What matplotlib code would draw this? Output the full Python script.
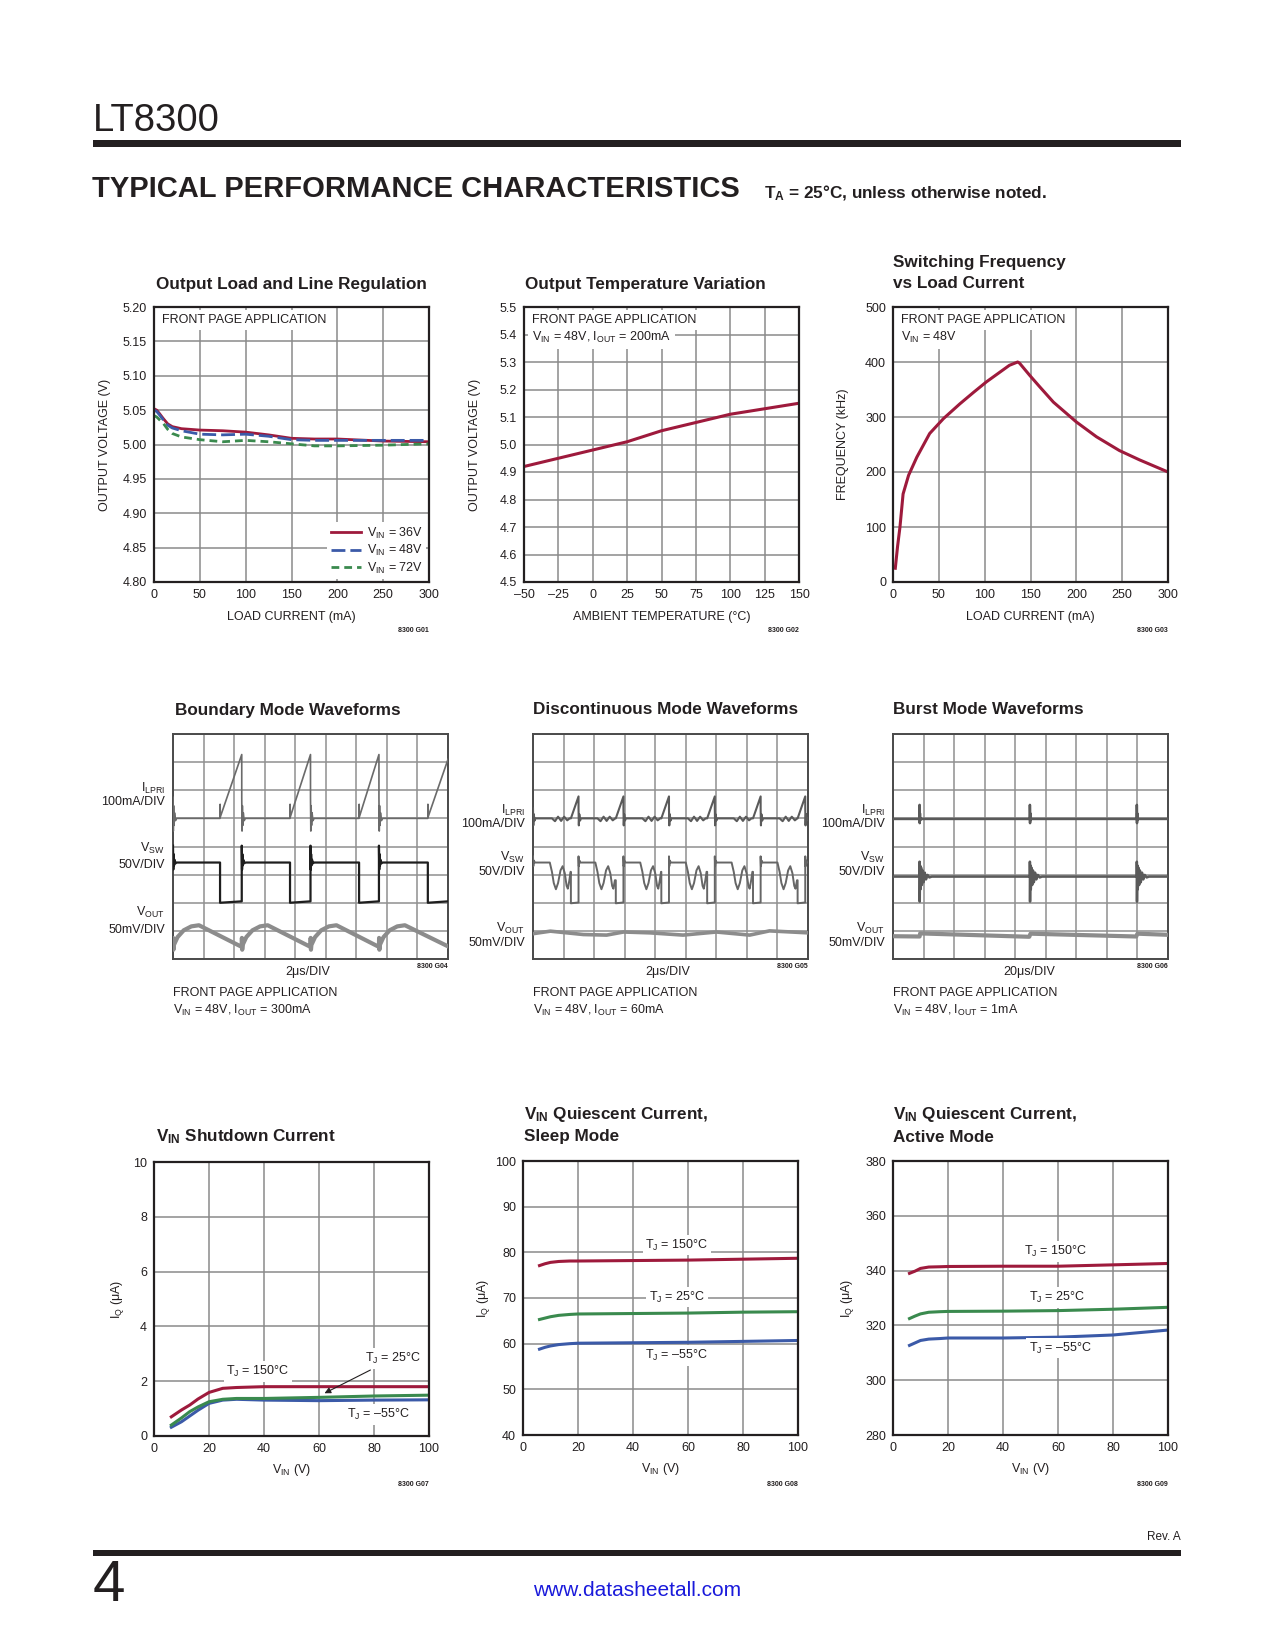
import matplotlib
matplotlib.use("Agg")
import matplotlib.pyplot as plt
from matplotlib.patches import Rectangle

# page size in pixels (dpi 100)
W, H = 1275, 1650
INK = "#231f20"
GRID = "#8a8a8a"
SCOPE_GRID = "#8f8f8f"
RED = "#9e1a3c"
BLUE = "#3b5aa8"
GREEN = "#3a8a4e"
URL_BLUE = "#1a1adb"
FONT = "Liberation Sans"
FS = 9          # ticks, axis labels, notes
FS_TITLE = 12.3  # panel titles

plt.rcParams["font.family"] = [FONT, "DejaVu Sans"]
plt.rcParams["mathtext.fontset"] = "custom"
plt.rcParams["mathtext.rm"] = FONT
plt.rcParams["mathtext.it"] = FONT + ":italic"
plt.rcParams["mathtext.bf"] = FONT + ":bold"
plt.rcParams["text.color"] = INK

# ---------------- G01: output load and line regulation
load_ma = [0, 3, 6, 10, 15, 20, 30, 50, 75, 100, 125, 150, 175, 200, 250, 300]
vout_36v = [5.052, 5.050, 5.045, 5.038, 5.030, 5.026, 5.023, 5.021, 5.020, 5.018, 5.014, 5.009, 5.008, 5.008, 5.005, 5.004]
vout_48v = [5.050, 5.048, 5.043, 5.036, 5.028, 5.024, 5.020, 5.015, 5.014, 5.015, 5.012, 5.007, 5.006, 5.006, 5.006, 5.006]
vout_72v = [5.042, 5.040, 5.036, 5.031, 5.022, 5.016, 5.011, 5.007, 5.004, 5.006, 5.004, 5.001, 4.998, 4.998, 4.999, 5.001]
g01_yticks = [4.80, 4.85, 4.90, 4.95, 5.00, 5.05, 5.10, 5.15, 5.20]
g01_xticks = [0, 50, 100, 150, 200, 250, 300]

# ---------------- G02: output temperature variation
temp_c = [-50, -25, 0, 25, 50, 75, 100, 125, 150]
vout_temp = [4.92, 4.95, 4.98, 5.01, 5.05, 5.08, 5.11, 5.13, 5.15]
g02_yticks = [4.5, 4.6, 4.7, 4.8, 4.9, 5.0, 5.1, 5.2, 5.3, 5.4, 5.5]
g02_xticks = [-50, -25, 0, 25, 50, 75, 100, 125, 150]
g02_xlabels = ["\u201350", "\u201325", "0", "25", "50", "75", "100", "125", "150"]

# ---------------- G03: switching frequency vs load current
load_f = [2.5, 5, 7.6, 11, 17, 26, 40, 55, 73, 88, 102, 117, 127, 136, 138, 149, 160, 175, 200, 222, 247, 269, 300]
freq_khz = [25, 65, 100, 160, 194, 227, 270, 297, 324, 345, 364, 382, 394, 400, 398, 376, 355, 327, 291, 264, 239, 222, 200]
g03_yticks = [0, 100, 200, 300, 400, 500]

# ---------------- G04: boundary mode waveforms (scope divisions)
bm_t_off = [0.0, 2.25, 4.50, 6.74]
bm_t_on = [1.54, 3.83, 6.09, 8.34]
bm_ilpri_base = 5.0
bm_ilpri_peak = [7.27, 7.27, 7.27, 7.10]
bm_vsw_high = 3.43
bm_vsw_low = 2.0
ring_dt = [0.0, 0.01, 0.02, 0.035, 0.05, 0.08, 0.12]
bm_ilpri_ring = [0.75, -0.45, 0.45, -0.25, 0.2, -0.08, 0.0]
bm_vsw_ring = [0.6, -0.25, 0.3, -0.1, 0.1, -0.03, 0.0]
bm_vout_dt = [0.0, 0.005, 0.015, 0.03, 0.15, 0.35, 0.6, 0.85]
bm_vout_v = [0.43, 0.75, 0.33, 0.5, 0.78, 1.02, 1.16, 1.2]

# ---------------- G05: discontinuous mode waveforms
dm_t_off = [0.0, 1.49, 2.96, 4.45, 5.95, 7.45, 8.91]
dm_t_on = [1.24, 2.71, 4.20, 5.70, 7.20, 8.66]
dm_ilpri_base = 5.0
dm_ilpri_peak = 5.78
dm_ilpri_bump_dt = [0.0, 0.01, 0.025, 0.05, 0.08, 0.62, 0.72, 0.82, 0.92, 1.02, 1.12, 1.2]
dm_ilpri_bump_v = [0.35, -0.25, 0.15, -0.08, 0.0, 0.0, -0.1, 0.06, -0.09, 0.06, -0.07, 0.0]
dm_vsw_dt = [0.0, 0.01, 0.03, 0.06, 0.55, 0.62, 0.68, 0.75, 0.82, 0.90, 0.97, 1.04, 1.10, 1.14, 1.19, 1.23]
dm_vsw_v = [3.65, 3.30, 3.50, 3.43, 3.43, 3.10, 2.70, 2.48, 2.70, 3.15, 3.30, 3.05, 2.60, 2.50, 2.80, 3.10]
dm_vsw_low = 1.98
dm_vout_t = [0, 0.57, 1.65, 2.41, 2.96, 3.83, 4.91, 6.0, 7.09, 7.74, 9.0]
dm_vout_v = [0.90, 0.99, 0.87, 0.85, 0.96, 0.93, 0.85, 0.96, 0.85, 1.0, 0.93]

# ---------------- G06: burst mode waveforms
bu_bursts = [0.87, 4.48, 7.98]
bu_ilpri_base = 4.98
bu_ilpri_dt = [0.0, 0.005, 0.012, 0.02, 0.035, 0.05]
bu_ilpri_v = [0.5, -0.15, 0.2, -0.05, 0.02, 0.0]
bu_vsw_base = 2.93
bu_vsw_dt = [0.0, 0.005, 0.015, 0.03, 0.05, 0.075, 0.10, 0.13, 0.17, 0.21, 0.26, 0.32, 0.40]
bu_vsw_v = [0.53, -0.89, 0.40, -0.45, 0.32, -0.30, 0.22, -0.2, 0.14, -0.1, 0.06, -0.03, 0.0]
bu_vout_t = [0, 0.87, 0.89, 4.46, 4.50, 7.96, 8.0, 9.0]
bu_vout_v = [0.81, 0.80, 0.91, 0.79, 0.90, 0.80, 0.90, 0.86]

# ---------------- G07: VIN shutdown current
vin_sd = [6.3, 10, 13, 16, 20, 25, 30, 40, 60, 80, 100]
sd_150 = [0.70, 0.95, 1.13, 1.35, 1.59, 1.74, 1.77, 1.80, 1.80, 1.80, 1.80]
sd_25 = [0.40, 0.66, 0.89, 1.06, 1.25, 1.34, 1.37, 1.37, 1.41, 1.46, 1.49]
sd_m55 = [0.32, 0.52, 0.73, 0.94, 1.19, 1.31, 1.34, 1.31, 1.29, 1.31, 1.32]

# ---------------- G08 / G09: VIN quiescent current
vin_q = [6, 8, 10, 13, 17, 20, 40, 60, 80, 100]
sleep_150 = [77.1, 77.5, 77.8, 78.0, 78.1, 78.1, 78.2, 78.3, 78.5, 78.7]
sleep_25 = [65.3, 65.6, 65.9, 66.2, 66.4, 66.5, 66.6, 66.7, 66.9, 67.0]
sleep_m55 = [58.8, 59.2, 59.5, 59.8, 60.0, 60.1, 60.2, 60.3, 60.5, 60.7]
active_150 = [339.0, 339.8, 340.8, 341.3, 341.4, 341.5, 341.6, 341.6, 342.1, 342.6]
active_25 = [322.5, 323.4, 324.2, 324.8, 325.0, 325.1, 325.2, 325.4, 325.9, 326.6]
active_m55 = [312.7, 313.6, 314.5, 315.0, 315.2, 315.4, 315.4, 315.7, 316.5, 318.3]
vin_xticks = [0, 20, 40, 60, 80, 100]

fig = plt.figure(figsize=(W / 100, H / 100), dpi=100)


def ftext(x, y, s, **kw):
    """Text at page pixel position (y from top)."""
    return fig.text(x / W, 1 - y / H, s, **kw)


def make_axes(l, t, r, b):
    return fig.add_axes([l / W, 1 - b / H, (r - l) / W, (b - t) / H])


def style_chart(ax, xlim, ylim, xticks, yticks, xlabels=None, ylabels=None):
    ax.set_xlim(xlim)
    ax.set_ylim(ylim)
    ax.set_xticks(xticks)
    ax.set_yticks(yticks)
    if xlabels is not None:
        ax.set_xticklabels(xlabels)
    if ylabels is not None:
        ax.set_yticklabels(ylabels)
    ax.grid(True, color=GRID, lw=1.1)
    ax.set_axisbelow(True)
    ax.tick_params(length=0, labelsize=FS, colors=INK)
    ax.tick_params(axis="y", pad=5)
    ax.tick_params(axis="x", pad=5)
    for sp in ax.spines.values():
        sp.set_linewidth(1.6)
        sp.set_color(INK)
        sp.set_zorder(5)


def axis_labels(ax, xlabel, ylabel, xoff, yoff):
    w = ax.get_position().width * W
    h = ax.get_position().height * H
    ax.text(0.5, -yoff / h, xlabel, transform=ax.transAxes, ha="center", va="center", fontsize=FS)
    ax.text(-xoff / w, 0.5, ylabel, transform=ax.transAxes, ha="center", va="center",
            rotation=90, fontsize=FS)


def inset(ax, lines, x_px=8, y_px=[13, 30]):
    w = ax.get_position().width * W
    h = ax.get_position().height * H
    for s, yy in zip(lines, y_px):
        ax.text(x_px / w, 1 - yy / h, s, transform=ax.transAxes, ha="left", va="center",
                fontsize=FS, zorder=4,
                bbox=dict(facecolor="white", edgecolor="none", pad=3))


def style_scope(ax):
    ax.set_xlim(0, 9)
    ax.set_ylim(0, 8)
    ax.set_xticks(range(10))
    ax.set_yticks(range(9))
    ax.grid(True, color=SCOPE_GRID, lw=1.1)
    ax.set_axisbelow(True)
    ax.tick_params(length=0, labelbottom=False, labelleft=False)
    for sp in ax.spines.values():
        sp.set_linewidth(1.4)
        sp.set_color("#4a4a4a")


def scope_notes(x_right, rows):
    for y, s in rows:
        ftext(x_right, y, s, fontsize=FS, ha="right", va="center")


VIN = "V$_\\mathregular{IN}$"
IOUT = "I$_\\mathregular{OUT}$"
TJ = "T$_\\mathregular{J}$"
IQ = "I$_\\mathregular{Q}$ (μA)"
ILPRI = "I$_\\mathregular{LPRI}$"
VSW = "V$_\\mathregular{SW}$"
VOUT = "V$_\\mathregular{OUT}$"

# ---------------- page header / footer
ftext(93, 121, "LT8300", fontsize=27.5, ha="left", va="center", color=INK)
fig.add_artist(Rectangle((93 / W, 1 - 147 / H), (1181 - 93) / W, 7 / H,
                         transform=fig.transFigure, color=INK, lw=0))
ftext(92, 189, "TYPICAL PERFORMANCE CHARACTERISTICS", fontsize=21, fontweight="bold",
      ha="left", va="center")
ftext(764, 193, "T$_\\mathbf{A}$ = 25°C, unless otherwise noted.", fontsize=12.3,
      fontweight="bold", ha="left", va="center")
fig.add_artist(Rectangle((93 / W, 1 - 1556 / H), (1181 - 93) / W, 6 / H,
                         transform=fig.transFigure, color=INK, lw=0))
ftext(1181, 1537, "Rev. A", fontsize=8.5, ha="right", va="center")
ftext(93, 1586, "4", fontsize=42, ha="left", va="center")
ftext(637, 1591, "www.datasheetall.com", fontsize=15, ha="center", va="center", color=URL_BLUE)

# ---------------- G01
ax = make_axes(154, 307, 429, 582)
style_chart(ax, (0, 300), (4.80, 5.20), g01_xticks, g01_yticks,
            ylabels=["%.2f" % v for v in g01_yticks])
ax.plot(load_ma, vout_36v, color=RED, lw=2.0, label=VIN + " = 36V", zorder=3)
ax.plot(load_ma, vout_48v, color=BLUE, lw=2.0, dashes=(5, 1.8), label=VIN + " = 48V", zorder=3)
ax.plot(load_ma, vout_72v, color=GREEN, lw=2.0, dashes=(2.8, 1.8), label=VIN + " = 72V", zorder=3)
leg = ax.legend(loc="lower right", fontsize=FS, frameon=True, fancybox=False, framealpha=1,
                edgecolor="none", borderaxespad=0.25, borderpad=0.25, handlelength=2.4,
                handletextpad=0.5, labelspacing=0.2)
leg.set_zorder(4)
inset(ax, ["FRONT PAGE APPLICATION"])
axis_labels(ax, "LOAD CURRENT (mA)", "OUTPUT VOLTAGE (V)", 49, 35)
ftext(156, 284, "Output Load and Line Regulation", fontsize=FS_TITLE, fontweight="bold", ha="left", va="center")
ftext(429, 630, "8300 G01", fontsize=5, fontweight="bold", ha="right", va="center")

# ---------------- G02
ax = make_axes(524, 307, 799, 582)
style_chart(ax, (-50, 150), (4.5, 5.5), g02_xticks, g02_yticks, xlabels=g02_xlabels,
            ylabels=["%.1f" % v for v in g02_yticks])
ax.plot(temp_c, vout_temp, color=RED, lw=2.2, zorder=3)
inset(ax, ["FRONT PAGE APPLICATION", VIN + " = 48V, " + IOUT + " = 200mA"])
axis_labels(ax, "AMBIENT TEMPERATURE (°C)", "OUTPUT VOLTAGE (V)", 49, 35)
ftext(525, 284, "Output Temperature Variation", fontsize=FS_TITLE, fontweight="bold", ha="left", va="center")
ftext(799, 630, "8300 G02", fontsize=5, fontweight="bold", ha="right", va="center")

# ---------------- G03
ax = make_axes(893, 307, 1168, 582)
style_chart(ax, (0, 300), (0, 500), g01_xticks, g03_yticks)
ax.plot(load_f, freq_khz, color=RED, lw=2.2, zorder=3)
inset(ax, ["FRONT PAGE APPLICATION", VIN + " = 48V"])
axis_labels(ax, "LOAD CURRENT (mA)", "FREQUENCY (kHz)", 50, 35)
ftext(893, 262, "Switching Frequency", fontsize=FS_TITLE, fontweight="bold", ha="left", va="center")
ftext(893, 284, "vs Load Current", fontsize=FS_TITLE, fontweight="bold", ha="left", va="center")
ftext(1168, 630, "8300 G03", fontsize=5, fontweight="bold", ha="right", va="center")

# ---------------- G04 boundary mode
ax = make_axes(173, 734, 448, 959)
style_scope(ax)
ts, vs = [], []
for k, t0 in enumerate(bm_t_off):
    for dt, dv in zip(ring_dt, bm_ilpri_ring):
        ts.append(t0 + dt)
        vs.append(bm_ilpri_base + dv)
    ton = bm_t_on[k]
    ts += [ton, ton + 0.003, ton + 0.008]
    vs += [bm_ilpri_base, bm_ilpri_base + 0.5, bm_ilpri_base + 0.05]
    ts.append(bm_t_off[k + 1] if k + 1 < len(bm_t_off) else 9.0)
    vs.append(bm_ilpri_peak[k])
ax.plot(ts, vs, color="#6a6a6a", lw=1.2, zorder=3)
ts, vs = [], []
for k, t0 in enumerate(bm_t_off):
    for dt, dv in zip(ring_dt, bm_vsw_ring):
        ts.append(t0 + dt)
        vs.append(bm_vsw_high + dv)
    ton = bm_t_on[k]
    ts += [ton, ton]
    vs += [bm_vsw_high, bm_vsw_low]
    ts.append(bm_t_off[k + 1] if k + 1 < len(bm_t_off) else 9.0)
    vs.append(bm_vsw_low + 0.05)
ax.plot(ts, vs, color="#1e1e1e", lw=1.6, zorder=3)
ts, vs = [], []
for t0 in bm_t_off:
    for dt, v in zip(bm_vout_dt, bm_vout_v):
        ts.append(t0 + dt)
        vs.append(v)
ts.append(9.0)
vs.append(0.45)
ax.plot(ts, vs, color="#8c8c8c", lw=3.0, zorder=3)
ftext(175, 710, "Boundary Mode Waveforms", fontsize=FS_TITLE, fontweight="bold", ha="left", va="center")
scope_notes(165, [(788, ILPRI), (802, "100mA/DIV"), (848, VSW), (865, "50V/DIV"),
                  (912, VOUT), (930, "50mV/DIV")])
ftext(308, 972, "2μs/DIV", fontsize=FS, ha="center", va="center")
ftext(448, 967, "8300 G04", fontsize=5, fontweight="bold", ha="right", va="center")
ftext(173, 993, "FRONT PAGE APPLICATION", fontsize=FS, ha="left", va="center")
ftext(173, 1010, VIN + " = 48V, " + IOUT + " = 300mA", fontsize=FS, ha="left", va="center")

# ---------------- G05 discontinuous mode
ax = make_axes(533, 734, 808, 959)
style_scope(ax)
ts, vs = [], []
for k, t0 in enumerate(dm_t_off):
    for dt, dv in zip(dm_ilpri_bump_dt, dm_ilpri_bump_v):
        ts.append(t0 + dt)
        vs.append(dm_ilpri_base + dv)
    if k < len(dm_t_on):
        ton = dm_t_on[k]
        ts += [ton, dm_t_off[k + 1]]
        vs += [dm_ilpri_base, dm_ilpri_peak]
ax.plot(ts, vs, color="#5a5a5a", lw=1.5, zorder=3)
ts, vs = [], []
for k, t0 in enumerate(dm_t_off):
    ton = dm_t_on[k] if k < len(dm_t_on) else 99
    for dt, v in zip(dm_vsw_dt, dm_vsw_v):
        if t0 + dt < ton:
            ts.append(t0 + dt)
            vs.append(v)
    if k < len(dm_t_on):
        ts += [ton, ton, dm_t_off[k + 1]]
        vs += [vs[-1], dm_vsw_low, dm_vsw_low + 0.03]
ax.plot(ts, vs, color="#666666", lw=1.4, zorder=3)
ax.plot(dm_vout_t, dm_vout_v, color="#8c8c8c", lw=2.6, zorder=3)
ftext(533, 710, "Discontinuous Mode Waveforms", fontsize=FS_TITLE, fontweight="bold", ha="left", va="center")
scope_notes(525, [(810, ILPRI), (824, "100mA/DIV"), (857, VSW), (872, "50V/DIV"),
                  (928, VOUT), (943, "50mV/DIV")])
ftext(668, 972, "2μs/DIV", fontsize=FS, ha="center", va="center")
ftext(808, 967, "8300 G05", fontsize=5, fontweight="bold", ha="right", va="center")
ftext(533, 993, "FRONT PAGE APPLICATION", fontsize=FS, ha="left", va="center")
ftext(533, 1010, VIN + " = 48V, " + IOUT + " = 60mA", fontsize=FS, ha="left", va="center")

# ---------------- G06 burst mode
ax = make_axes(893, 734, 1168, 959)
style_scope(ax)
ts, vs = [0.0], [bu_ilpri_base]
for tb in bu_bursts:
    ts.append(tb)
    vs.append(bu_ilpri_base)
    for dt, dv in zip(bu_ilpri_dt, bu_ilpri_v):
        ts.append(tb + dt)
        vs.append(bu_ilpri_base + dv)
ts.append(9.0)
vs.append(bu_ilpri_base)
ax.plot(ts, vs, color="#5a5a5a", lw=1.8, zorder=3)
ts, vs = [0.0], [bu_vsw_base]
for tb in bu_bursts:
    ts.append(tb)
    vs.append(bu_vsw_base)
    for dt, dv in zip(bu_vsw_dt, bu_vsw_v):
        ts.append(tb + dt)
        vs.append(bu_vsw_base + dv)
ts.append(9.0)
vs.append(bu_vsw_base)
ax.plot(ts, vs, color="#5a5a5a", lw=1.8, zorder=3)
ax.plot(bu_vout_t, bu_vout_v, color="#8c8c8c", lw=3.0, zorder=3)
ftext(893, 710, "Burst Mode Waveforms", fontsize=FS_TITLE, fontweight="bold", ha="left", va="center")
scope_notes(885, [(810, ILPRI), (824, "100mA/DIV"), (857, VSW), (872, "50V/DIV"),
                  (928, VOUT), (943, "50mV/DIV")])
ftext(1029, 972, "20μs/DIV", fontsize=FS, ha="center", va="center")
ftext(1168, 967, "8300 G06", fontsize=5, fontweight="bold", ha="right", va="center")
ftext(893, 993, "FRONT PAGE APPLICATION", fontsize=FS, ha="left", va="center")
ftext(893, 1010, VIN + " = 48V, " + IOUT + " = 1mA", fontsize=FS, ha="left", va="center")

LBOX = dict(facecolor="white", edgecolor="none", pad=2.0)

# ---------------- G07 shutdown current
ax = make_axes(154, 1162, 429, 1436)
style_chart(ax, (0, 100), (0, 10), vin_xticks, [0, 2, 4, 6, 8, 10])
ax.plot(vin_sd, sd_150, color=RED, lw=2.2, zorder=3)
ax.plot(vin_sd, sd_m55, color=BLUE, lw=2.2, zorder=3)
ax.plot(vin_sd, sd_25, color=GREEN, lw=2.2, zorder=3)
ax.text(37.8, 2.35, TJ + " = 150°C", ha="center", va="center", fontsize=FS, bbox=LBOX, zorder=4)
ax.annotate(TJ + " = 25°C", xy=(62, 1.56), xytext=(87, 2.83), ha="center", va="center",
            fontsize=FS, bbox=LBOX, zorder=4,
            arrowprops=dict(arrowstyle="-|>", color=INK, lw=0.8, shrinkA=2, shrinkB=0,
                            mutation_scale=9))
ax.text(81.5, 0.79, TJ + " = \u201355°C", ha="center", va="center", fontsize=FS, bbox=LBOX, zorder=4)
axis_labels(ax, VIN + " (V)", IQ, 37, 34)
ftext(156, 1137, VIN + " Shutdown Current", fontsize=FS_TITLE, fontweight="bold", ha="left", va="center")
ftext(429, 1484, "8300 G07", fontsize=5, fontweight="bold", ha="right", va="center")

# ---------------- G08 sleep mode
ax = make_axes(523, 1161, 798, 1435)
style_chart(ax, (0, 100), (40, 100), vin_xticks, [40, 50, 60, 70, 80, 90, 100])
ax.plot(vin_q, sleep_150, color=RED, lw=2.2, zorder=3)
ax.plot(vin_q, sleep_25, color=GREEN, lw=2.2, zorder=3)
ax.plot(vin_q, sleep_m55, color=BLUE, lw=2.2, zorder=3)
ax.text(56, 81.6, TJ + " = 150°C", ha="center", va="center", fontsize=FS, bbox=LBOX, zorder=4)
ax.text(56, 70.2, TJ + " = 25°C", ha="center", va="center", fontsize=FS, bbox=LBOX, zorder=4)
ax.text(56, 57.4, TJ + " = \u201355°C", ha="center", va="center", fontsize=FS, bbox=LBOX, zorder=4)
axis_labels(ax, VIN + " (V)", IQ, 40, 34)
ftext(524, 1115, VIN + " Quiescent Current,", fontsize=FS_TITLE, fontweight="bold", ha="left", va="center")
ftext(524, 1137, "Sleep Mode", fontsize=FS_TITLE, fontweight="bold", ha="left", va="center")
ftext(798, 1484, "8300 G08", fontsize=5, fontweight="bold", ha="right", va="center")

# ---------------- G09 active mode
ax = make_axes(893, 1161, 1168, 1435)
style_chart(ax, (0, 100), (280, 380), vin_xticks, [280, 300, 320, 340, 360, 380])
ax.plot(vin_q, active_150, color=RED, lw=2.2, zorder=3)
ax.plot(vin_q, active_25, color=GREEN, lw=2.2, zorder=3)
ax.plot(vin_q, active_m55, color=BLUE, lw=2.2, zorder=3)
ax.text(59, 346.9, TJ + " = 150°C", ha="center", va="center", fontsize=FS, bbox=LBOX, zorder=4)
ax.text(59.6, 330.2, TJ + " = 25°C", ha="center", va="center", fontsize=FS, bbox=LBOX, zorder=4)
ax.text(60.8, 311.7, TJ + " = \u201355°C", ha="center", va="center", fontsize=FS, bbox=LBOX, zorder=4)
axis_labels(ax, VIN + " (V)", IQ, 46, 34)
ftext(893, 1115, VIN + " Quiescent Current,", fontsize=FS_TITLE, fontweight="bold", ha="left", va="center")
ftext(893, 1137, "Active Mode", fontsize=FS_TITLE, fontweight="bold", ha="left", va="center")
ftext(1168, 1484, "8300 G09", fontsize=5, fontweight="bold", ha="right", va="center")

fig.savefig("out.png", dpi=100, facecolor="white")
